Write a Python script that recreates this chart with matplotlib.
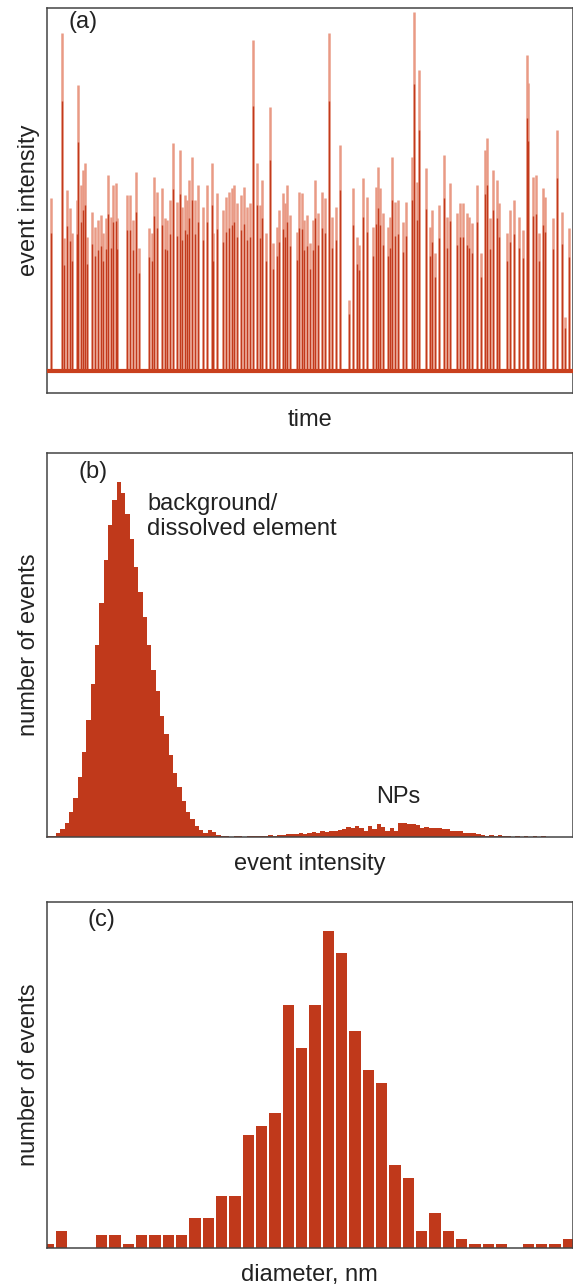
import matplotlib
matplotlib.use("Agg")
import matplotlib.pyplot as plt

plt.rcParams['font.family'] = ['Liberation Sans', 'DejaVu Sans']

# (a) time trace: spike positions (time, a.u.) and intensities (a.u.)
spike_time = [4, 15, 17, 20, 23, 25, 30, 31, 34, 36, 38, 40, 45, 48, 51, 54, 56, 59, 61, 64,
              66, 69, 70, 80, 83, 86, 89, 92, 102, 105, 107, 110, 115, 118, 120, 123, 126, 130, 133, 135,
              138, 140, 142, 145, 148, 151, 156, 160, 165, 166, 170, 176, 179, 182, 185, 187, 190, 194, 197, 200,
              203, 206, 210, 213, 215, 219, 223, 226, 230, 232, 236, 238, 240, 243, 250, 252, 255, 257, 260, 263,
              266, 268, 271, 275, 278, 282, 285, 289, 293, 302, 306, 310, 312, 316, 320, 326, 329, 331, 333, 336,
              341, 343, 345, 348, 351, 356, 359, 365, 367, 370, 372, 379, 383, 385, 388, 392, 397, 400, 403, 410,
              413, 416, 420, 422, 425, 430, 434, 438, 440, 443, 446, 450, 452, 460, 463, 467, 472, 476, 480, 481,
              486, 489, 492, 496, 498, 506, 510, 515, 518, 522]
spike_height = [173, 338, 133, 181, 163, 138, 171, 286, 186, 201, 208, 134, 159, 144, 151, 156, 138, 153, 196, 154,
                186, 188, 153, 176, 176, 151, 199, 123, 143, 138, 194, 179, 183, 153, 151, 171, 228, 169, 221, 164,
                176, 171, 191, 214, 171, 186, 164, 186, 208, 138, 178, 161, 174, 179, 183, 186, 168, 176, 184, 164,
                168, 331, 208, 166, 191, 138, 264, 128, 144, 161, 178, 168, 186, 156, 139, 179, 178, 151, 156, 128,
                151, 191, 158, 179, 173, 338, 154, 164, 226, 71, 183, 134, 126, 193, 174, 144, 184, 204, 183, 158,
                144, 154, 214, 169, 171, 149, 169, 214, 359, 189, 301, 203, 144, 161, 118, 166, 216, 154, 188, 158,
                168, 168, 158, 154, 148, 186, 118, 221, 233, 153, 201, 191, 168, 138, 161, 171, 154, 141, 316, 288,
                194, 196, 138, 183, 174, 153, 241, 159, 54, 143]

# (b) histogram of event intensities (relative counts per bin)
intensity_counts = [0.2, 0.4, 1, 2.2, 4, 7, 11, 17, 24, 33, 43, 54, 66, 78, 88, 95, 100, 97, 91, 84,
                    76, 69, 62, 54, 47, 41, 34, 29, 23, 18, 14, 10, 7, 5, 3, 2, 1.2, 2, 1.4, 0.6,
                    0.3, 0.2, 0.1, 0.2, 0.2, 0.1, 0.2, 0.2, 0.3, 0.4, 0.3, 0.5, 0.4, 0.6, 0.5, 0.8, 0.7, 0.9, 1.0, 0.8,
                    1.2, 1.4, 1.2, 1.6, 1.4, 1.8, 1.6, 2.0, 2.2, 2.8, 2.6, 3.2, 2.4, 1.8, 3.0, 2.2, 3.6, 2.8, 1.8, 2.4,
                    1.6, 4.0, 3.8, 3.6, 3.6, 3.4, 2.6, 2.8, 2.6, 2.4, 2.6, 2.2, 2.2, 1.8, 1.6, 1.8, 1.2, 1.0, 1.2, 0.8,
                    0.6, 0.4, 0.5, 0.4, 0.5, 0.4, 0.2, 0, 0.3, 0, 0.3, 0, 0.3, 0, 0.2, 0, 0, 0, 0, 0,
                    0, 0]

# (c) histogram of particle diameters (counts per bin)
diameter_counts = [1, 4, 0, 0, 3, 3, 1, 3, 3, 3, 3, 7, 7, 12, 12, 26, 28, 31, 56, 46,
                   56, 73, 68, 50, 41, 38, 19, 16, 4, 8, 4, 2, 1, 1, 1, 0, 1, 1, 1, 2]

bar_color = "#c0391b"
pale_spike = "#e99a85"
dark_spike = "#c23a1c"
text_color = "#222222"
fs = 17

fig = plt.figure(figsize=(5.73, 12.88), dpi=100)
ax_a = fig.add_axes([0.0815, 0.6949, 0.9185, 0.2987])
ax_b = fig.add_axes([0.0815, 0.3502, 0.9185, 0.2981])
ax_c = fig.add_axes([0.0815, 0.0311, 0.9185, 0.2686])

# (a) trace
ax_a.vlines(spike_time, 0, spike_height, color=pale_spike, lw=1.8, zorder=2)
ax_a.vlines(spike_time, 0, [h * 0.8 for h in spike_height], color=dark_spike, lw=1.0, zorder=3)
ax_a.axhline(0, color="#c9401e", lw=3.0, zorder=4)
ax_a.set_xlim(0, 526)
ax_a.set_ylim(-22, 363)

# (b) intensity histogram
ax_b.bar(range(len(intensity_counts)), intensity_counts, width=1.0, align="edge",
         color=bar_color, linewidth=0)
ax_b.set_xlim(-0.14, 121.3)
ax_b.set_ylim(0, 108.2)

# (c) diameter histogram
ax_c.bar(range(len(diameter_counts)), diameter_counts, width=0.85, align="edge",
         color=bar_color, linewidth=0)
ax_c.set_xlim(0.30, 39.78)
ax_c.set_ylim(0, 79.7)

for ax in (ax_a, ax_b, ax_c):
    ax.set_xticks([])
    ax.set_yticks([])
    for s in ax.spines.values():
        s.set_color("#444444")
        s.set_linewidth(1.1)

ax_a.text(0.0405, 0.964, "(a)", transform=ax_a.transAxes, fontsize=fs, va="center", color=text_color)
ax_b.text(0.061, 0.950, "(b)", transform=ax_b.transAxes, fontsize=fs, va="center", color=text_color)
ax_c.text(0.0766, 0.948, "(c)", transform=ax_c.transAxes, fontsize=fs, va="center", color=text_color)

ax_b.text(0.1906, 0.835, "background/\ndissolved element", transform=ax_b.transAxes,
          fontsize=fs, va="center", ha="left", color=text_color, linespacing=1.15)
ax_b.text(0.6675, 0.104, "NPs", transform=ax_b.transAxes, fontsize=fs, va="center",
          ha="center", color=text_color)

# axis labels
ax_a.text(0.5, -0.070, "time", transform=ax_a.transAxes, fontsize=fs, ha="center", va="center", color=text_color)
ax_b.text(0.5, -0.070, "event intensity", transform=ax_b.transAxes, fontsize=fs, ha="center", va="center", color=text_color)
ax_c.text(0.5, -0.078, "diameter, nm", transform=ax_c.transAxes, fontsize=fs, ha="center", va="center", color=text_color)

ax_a.text(-0.034, 0.5, "event intensity", transform=ax_a.transAxes, fontsize=fs, rotation=90,
          ha="center", va="center", color=text_color)
ax_b.text(-0.034, 0.5, "number of events", transform=ax_b.transAxes, fontsize=fs, rotation=90,
          ha="center", va="center", color=text_color)
ax_c.text(-0.034, 0.5, "number of events", transform=ax_c.transAxes, fontsize=fs, rotation=90,
          ha="center", va="center", color=text_color)

fig.savefig("out.png", dpi=100)
